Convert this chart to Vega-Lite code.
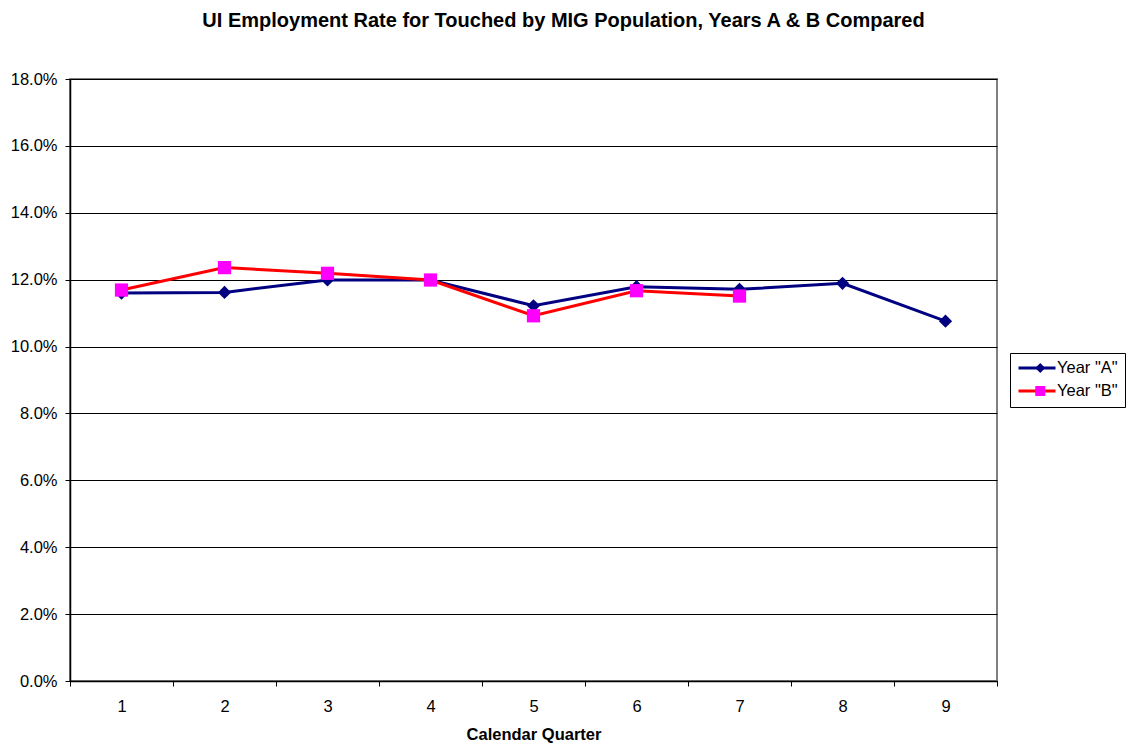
{
  "$schema": "https://vega.github.io/schema/vega-lite/v6.json",
  "autosize": {"type": "none"},
  "padding": {"left": 70, "top": 79, "right": 130, "bottom": 63},
  "width": 927,
  "height": 602,
  "background": "white",
  "title": {
    "text": "UI Employment Rate for Touched by MIG Population, Years A & B Compared",
    "font": "Liberation Sans",
    "fontSize": 20,
    "fontWeight": "bold",
    "color": "black",
    "anchor": "middle",
    "frame": "group",
    "dx": 30,
    "baseline": "alphabetic",
    "offset": 24
  },
  "config": {
    "view": {"stroke": "#808080", "strokeWidth": 2},
    "axis": {
      "labelFont": "Liberation Sans",
      "labelFontSize": 16.5,
      "labelColor": "black",
      "titleFont": "Liberation Sans",
      "titleFontSize": 16.5,
      "titleFontWeight": "bold",
      "titleColor": "black",
      "domainColor": "black",
      "domainWidth": 1.5,
      "tickColor": "black",
      "tickSize": 5,
      "gridColor": "black",
      "gridWidth": 1
    },
    "legend": {
      "labelFont": "Liberation Sans",
      "labelFontSize": 16.5,
      "labelColor": "black"
    }
  },
  "data": {
    "values": [
      {"quarter": 1, "series": "Year \"A\"", "rate": 0.1160},
      {"quarter": 2, "series": "Year \"A\"", "rate": 0.1162},
      {"quarter": 3, "series": "Year \"A\"", "rate": 0.1199},
      {"quarter": 4, "series": "Year \"A\"", "rate": 0.1199},
      {"quarter": 5, "series": "Year \"A\"", "rate": 0.1122},
      {"quarter": 6, "series": "Year \"A\"", "rate": 0.1179},
      {"quarter": 7, "series": "Year \"A\"", "rate": 0.1171},
      {"quarter": 8, "series": "Year \"A\"", "rate": 0.1189},
      {"quarter": 9, "series": "Year \"A\"", "rate": 0.1076},
      {"quarter": 1, "series": "Year \"B\"", "rate": 0.1169},
      {"quarter": 2, "series": "Year \"B\"", "rate": 0.1236},
      {"quarter": 3, "series": "Year \"B\"", "rate": 0.1219},
      {"quarter": 4, "series": "Year \"B\"", "rate": 0.1199},
      {"quarter": 5, "series": "Year \"B\"", "rate": 0.1092},
      {"quarter": 6, "series": "Year \"B\"", "rate": 0.1167},
      {"quarter": 7, "series": "Year \"B\"", "rate": 0.1151}
    ]
  },
  "encoding": {
    "x": {
      "field": "quarter",
      "type": "ordinal",
      "scale": {"type": "band", "paddingInner": 0, "paddingOuter": 0},
      "axis": {
        "title": "Calendar Quarter",
        "labelAngle": 0,
        "tickBand": "extent",
        "labelPadding": 12,
        "grid": false,
        "titleBaseline": "alphabetic",
        "titleY": 58.5
      }
    },
    "y": {
      "field": "rate",
      "type": "quantitative",
      "scale": {"domain": [0, 0.18], "nice": false},
      "axis": {
        "title": null,
        "format": ".1%",
        "values": [0, 0.02, 0.04, 0.06, 0.08, 0.1, 0.12, 0.14, 0.16, 0.18],
        "labelPadding": 8,
        "grid": true
      }
    }
  },
  "layer": [
    {
      "mark": {"type": "line", "strokeWidth": 3},
      "encoding": {
        "stroke": {
          "field": "series",
          "type": "nominal",
          "scale": {"domain": ["Year \"A\"", "Year \"B\""], "range": ["#000080", "#FF0000"]},
          "legend": {
            "title": null,
            "orient": "none",
            "legendX": 940,
            "legendY": 274,
            "symbolType": "stroke",
            "symbolSize": 1369,
            "symbolStrokeWidth": 3,
            "clipHeight": 16,
            "rowPadding": 6,
            "labelOffset": 0,
            "padding": 7,
            "strokeColor": "black",
            "fillColor": "white"
          }
        }
      }
    },
    {
      "mark": {"type": "point", "filled": true, "opacity": 1, "strokeWidth": 0, "size": 175},
      "encoding": {
        "fill": {
          "field": "series",
          "type": "nominal",
          "scale": {"range": ["#000080", "#FF00FF"]},
          "legend": {
            "title": null,
            "orient": "none",
            "legendX": 955,
            "legendY": 274,
            "symbolSize": 100,
            "symbolStrokeWidth": 0,
            "clipHeight": 16,
            "rowPadding": 6,
            "padding": 7,
            "labelExpr": "''"
          }
        },
        "shape": {
          "field": "series",
          "type": "nominal",
          "scale": {"range": ["diamond", "square"]},
          "legend": {
            "title": null,
            "orient": "none",
            "legendX": 955,
            "legendY": 274,
            "symbolSize": 100,
            "symbolStrokeWidth": 0,
            "clipHeight": 16,
            "rowPadding": 6,
            "padding": 7,
            "labelExpr": "''"
          }
        }
      }
    }
  ]
}
